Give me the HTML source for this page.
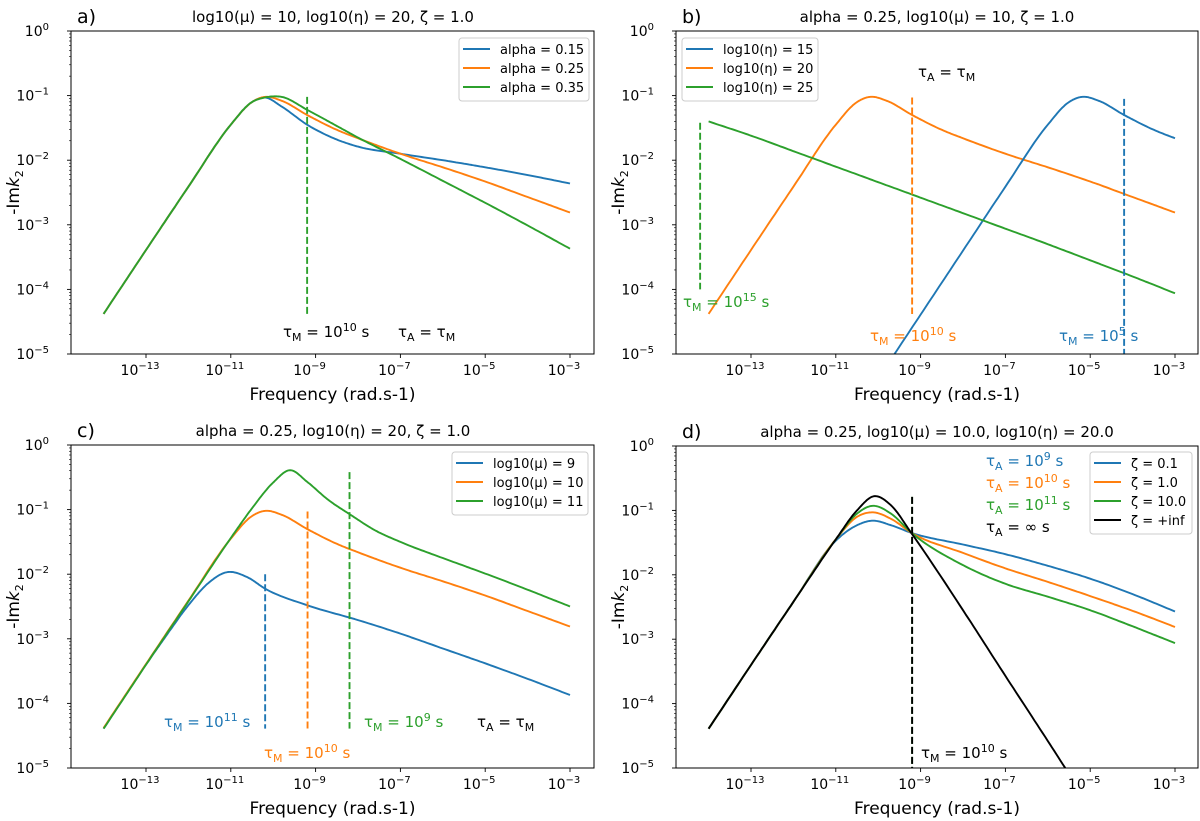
<!DOCTYPE html>
<html><head><meta charset="utf-8"><style>
html,body{margin:0;padding:0;background:#fff;}
svg{display:block;font-family:"DejaVu Sans","Liberation Sans",sans-serif;}
</style></head><body>
<svg id="fig" width="1200" height="821" viewBox="0 0 1200 821" xmlns="http://www.w3.org/2000/svg"></svg>
<script>
// ---- data (log10 frequency, log10 -Imk2) ----
const aX=[-14,-13,-12,-11,-10.5,-10.2,-9.8,-9.2,-8.5,-8,-7,-6,-5,-4,-3];
const aBlue=[-4.38,-3.39,-2.41,-1.45,-1.1,-1.03,-1.17,-1.45,-1.68,-1.79,-1.90,-2.0,-2.11,-2.23,-2.36];
const aOrange=[-4.38,-3.39,-2.41,-1.45,-1.1,-1.02,-1.08,-1.30,-1.53,-1.66,-1.90,-2.11,-2.33,-2.57,-2.81];
const aGreen=[-4.38,-3.39,-2.41,-1.45,-1.1,-1.03,-1.02,-1.22,-1.47,-1.65,-1.98,-2.32,-2.66,-3.01,-3.37];
const bOrangeX=[-14,-13,-12,-11,-10.5,-10.2,-9.8,-9.2,-8.5,-8,-7,-6,-5,-4,-3];
const bOrange=[-4.38,-3.39,-2.41,-1.45,-1.1,-1.02,-1.08,-1.30,-1.53,-1.66,-1.90,-2.11,-2.33,-2.57,-2.81];
const bBlueX=[-10,-9,-8,-7,-6,-5.5,-5.2,-4.8,-4.2,-3.5,-3];
const bBlue=[-5.38,-4.39,-3.40,-2.41,-1.45,-1.1,-1.02,-1.08,-1.30,-1.53,-1.66];
const bGreenX=[-14,-13,-12,-11,-10,-9,-8,-7,-6,-5,-4,-3];
const bGreen=[-1.40,-1.62,-1.86,-2.10,-2.34,-2.58,-2.82,-3.06,-3.30,-3.55,-3.80,-4.06];
const cBlueX=[-14,-13,-12.5,-12,-11.5,-11.1,-10.6,-10.2,-9.2,-8,-7,-6,-5,-4,-3];
const cBlue=[-4.39,-3.40,-2.93,-2.48,-2.12,-1.97,-2.05,-2.22,-2.48,-2.71,-2.92,-3.15,-3.38,-3.62,-3.87];
const cGreenX=[-14,-13,-12,-11,-10.5,-10,-9.6,-9.2,-8.7,-8.2,-7.6,-7,-6,-5,-4,-3];
const cGreen=[-4.39,-3.40,-2.42,-1.44,-0.98,-0.58,-0.39,-0.57,-0.85,-1.07,-1.32,-1.50,-1.75,-1.99,-2.24,-2.5];
const dX=[-14,-13,-12,-11,-10.5,-10.15,-9.7,-9.21,-8,-7,-6,-5,-4,-3];
const dBlue=[-4.39,-3.40,-2.42,-1.47,-1.23,-1.16,-1.23,-1.35,-1.53,-1.68,-1.86,-2.06,-2.30,-2.57];
const dOrange=[-4.39,-3.40,-2.42,-1.45,-1.10,-1.03,-1.13,-1.35,-1.66,-1.90,-2.11,-2.33,-2.56,-2.81];
const dGreen=[-4.39,-3.40,-2.42,-1.45,-1.05,-0.93,-1.05,-1.35,-1.85,-2.14,-2.34,-2.55,-2.80,-3.06];
const dBlackX=[-14,-13,-12,-11,-10.5,-10.1,-9.7,-9.21,-8,-7,-6,-5.2];
const dBlack=[-4.39,-3.40,-2.42,-1.45,-1.0,-0.78,-0.92,-1.36,-2.55,-3.57,-4.58,-5.4];
const xTicks=[-13,-11,-9,-7,-5,-3];
const yTicks=[0,-1,-2,-3,-4,-5];

const C={blue:'#1f77b4',orange:'#ff7f0e',green:'#2ca02c',black:'#000'};
const NS='http://www.w3.org/2000/svg';
const fig=document.getElementById('fig');
function el(tag,attrs,parent){const e=document.createElementNS(NS,tag);for(const k in attrs)e.setAttribute(k,attrs[k]);(parent||fig).appendChild(e);return e;}

function makeAxes(p){
  const sx=lx=>p.xa+(lx+13)*(p.xb-p.xa)/10;
  const sy=ly=>p.top+(-ly)*(p.bottom-p.top)/5;
  const g=el('g',{});
  
  
  const cp=el('clipPath',{id:'clip'+p.id},g);
  el('rect',{x:p.left,y:p.top,width:p.right-p.left,height:p.bottom-p.top},cp);
  const plot=el('g',{'clip-path':'url(#clip'+p.id+')'},g);
  xTicks.forEach(t=>{
    const x=sx(t);
    const tk=el('line',{x1:x,x2:x,y1:p.bottom,y2:p.bottom+4,stroke:'#000','stroke-width':0.9},g);
    
    
    const tx=el('text',{x:x-6,y:p.bottom+21,'font-size':14,'text-anchor':'middle'},g);
    
    
    tx.innerHTML='10<tspan dy="-6" font-size="10">\u2212'+(-t)+'</tspan>';
  });
  yTicks.forEach(t=>{
    const y=sy(t);
    el('line',{x1:p.left-4,x2:p.left,y1:y,y2:y,stroke:'#000','stroke-width':0.9},g);
    const tx=el('text',{x:p.left-22,y:y+5,'font-size':14,'text-anchor':'end'},g);
    
    
    tx.innerHTML='10<tspan dy="-6" font-size="10">'+(t===0?'0':'\u2212'+(-t))+'</tspan>';
    if(t>-5){for(let m=2;m<10;m++){const ym=sy(t-1+Math.log10(m));el('line',{x1:p.left-2,x2:p.left,y1:ym,y2:ym,stroke:'#000','stroke-width':0.6},g);}}
  });
  const xl=el('text',{x:(p.left+p.right)/2,y:p.bottom+46,'font-size':17,'text-anchor':'middle'},g);
  
  
  xl.textContent='Frequency (rad.s-1)';
  const yc=(p.top+p.bottom)/2;
  const yl=el('text',{x:0,y:0,'font-size':17,'text-anchor':'middle',transform:'translate('+(p.left-52)+','+yc+') rotate(-90)'},g);
  
  
  yl.innerHTML='-Im<tspan font-style="italic">k</tspan><tspan dy="4" font-size="11">2</tspan>';
  const tl=el('text',{x:p.tx,y:p.top-9,'font-size':15,'text-anchor':'middle'},g);
  
  
  tl.textContent=p.title;
  const lt=el('text',{x:p.left+6,y:p.top-8,'font-size':19},g);
  
  
  lt.textContent=p.id+')';
  return {sx,sy,g,plot,p};
}
function curvePath(ax,xs,ys){
  const n=xs.length,m=[];
  for(let i=0;i<n;i++){
    if(i===0)m.push((ys[1]-ys[0])/(xs[1]-xs[0]));
    else if(i===n-1)m.push((ys[n-1]-ys[n-2])/(xs[n-1]-xs[n-2]));
    else{
      const d0=(ys[i]-ys[i-1])/(xs[i]-xs[i-1]),d1=(ys[i+1]-ys[i])/(xs[i+1]-xs[i]);
      const h0=xs[i]-xs[i-1],h1=xs[i+1]-xs[i];
      m.push((d0*h1+d1*h0)/(h0+h1));
    }
  }
  let d='M'+ax.sx(xs[0]).toFixed(1)+','+ax.sy(ys[0]).toFixed(1);
  for(let i=0;i<n-1;i++){
    const h=xs[i+1]-xs[i];
    for(let k=1;k<=16;k++){
      const t=k/16,t2=t*t,t3=t2*t;
      const y=(2*t3-3*t2+1)*ys[i]+(t3-2*t2+t)*h*m[i]+(-2*t3+3*t2)*ys[i+1]+(t3-t2)*h*m[i+1];
      const x=xs[i]+t*h;
      d+=' L'+ax.sx(x).toFixed(1)+','+ax.sy(y).toFixed(1);
    }
  }
  return d;
}
function series(ax,xs,ys,color,name){
  const e=el('path',{d:curvePath(ax,xs,ys),fill:'none',stroke:color,'stroke-width':1.9,'stroke-linejoin':'round'},ax.plot);
  
  
}
function vline(ax,lx,ly1,ly2,color,name){
  const e=el('line',{x1:ax.sx(lx),x2:ax.sx(lx),y1:ax.sy(ly1),y2:ax.sy(ly2),stroke:color,'stroke-width':1.9,'stroke-dasharray':'7,3'},ax.plot);
  
  
}
function label(ax,x,y,color,html,name){
  const e=el('text',{x:x,y:y,'font-size':15,fill:color},ax.g);
  
  
  e.innerHTML=html;
}
function tau(sub,rest){return '\u03c4<tspan dy="4" font-size="11">'+sub+'</tspan><tspan dy="-4">'+rest+'</tspan>';}
function pow(e){return '10<tspan dy="-6" font-size="11">'+e+'</tspan><tspan dy="6"> s</tspan>';}
function frame(ax){
  const p=ax.p;
  el('rect',{x:p.left,y:p.top,width:p.right-p.left,height:p.bottom-p.top,fill:'none',stroke:'#000','stroke-width':1},ax.g);
}
function legend(ax,x,y,w,entries){
  const g=el('g',{},ax.g);
  
  
  el('rect',{x:x,y:y,width:w,height:entries.length*19+6,rx:3,fill:'#fff','fill-opacity':0.85,stroke:'#ccc'},g);
  entries.forEach((en,i)=>{
    const yy=y+11+i*19;
    const li=el('line',{x1:x+4,x2:x+31,y1:yy,y2:yy,stroke:en[0],'stroke-width':1.9},g);
    
    
    const t=el('text',{x:x+41,y:yy+5,'font-size':13},g);
    
    
    t.textContent=en[1];
  });
}

// Panel a
const A=makeAxes({id:'a',xa:146,xb:570,left:71,right:594,top:31,bottom:354,tx:333,title:'log10(\u03bc) = 10, log10(\u03b7) = 20, \u03b6 = 1.0'});
series(A,aX,aBlue,C.blue,'series-alpha-0.15');
series(A,aX,aOrange,C.orange,'series-alpha-0.25');
series(A,aX,aGreen,C.green,'series-alpha-0.35');
vline(A,-9.2,-1.02,-4.38,C.green,'tau-m-line');
label(A,283,337,'#000',tau('M',' = ')+pow('10'),'tau-m-label');
label(A,398,337,'#000',tau('A',' = ')+tau('M',''),'tau-a-label');
frame(A);
legend(A,459,38,130,[[C.blue,'alpha = 0.15'],[C.orange,'alpha = 0.25'],[C.green,'alpha = 0.35']]);

// Panel b
const B=makeAxes({id:'b',xa:751,xb:1175,left:676,right:1198,top:31,bottom:354,tx:937,title:'alpha = 0.25, log10(\u03bc) = 10, \u03b6 = 1.0'});
series(B,bOrangeX,bOrange,C.orange,'series-eta-20');
series(B,bBlueX,bBlue,C.blue,'series-eta-15');
series(B,bGreenX,bGreen,C.green,'series-eta-25');
vline(B,-14.2,-1.42,-4.0,C.green,'tau-m-line-green');
vline(B,-9.2,-1.03,-4.38,C.orange,'tau-m-line-orange');
vline(B,-4.2,-1.05,-5,C.blue,'tau-m-line-blue');
label(B,683,307,C.green,tau('M',' = ')+pow('15'),'tau-m-label-green');
label(B,870,341,C.orange,tau('M',' = ')+pow('10'),'tau-m-label-orange');
label(B,1059,341,C.blue,tau('M',' = ')+pow('5'),'tau-m-label-blue');
label(B,918,77,'#000',tau('A',' = ')+tau('M',''),'tau-a-label');
frame(B);
legend(B,682,38,136,[[C.blue,'log10(\u03b7) = 15'],[C.orange,'log10(\u03b7) = 20'],[C.green,'log10(\u03b7) = 25']]);

// Panel c
const Cc=makeAxes({id:'c',xa:146,xb:570,left:71,right:594,top:445,bottom:768,tx:333,title:'alpha = 0.25, log10(\u03b7) = 20, \u03b6 = 1.0'});
series(Cc,cBlueX,cBlue,C.blue,'series-mu-9');
series(Cc,aX,aOrange,C.orange,'series-mu-10');
series(Cc,cGreenX,cGreen,C.green,'series-mu-11');
vline(Cc,-10.19,-2.0,-4.39,C.blue,'tau-m-line-blue');
vline(Cc,-9.19,-1.03,-4.39,C.orange,'tau-m-line-orange');
vline(Cc,-8.2,-0.42,-4.39,C.green,'tau-m-line-green');
label(Cc,164,727,C.blue,tau('M',' = ')+pow('11'),'tau-m-label-blue');
label(Cc,264,758,C.orange,tau('M',' = ')+pow('10'),'tau-m-label-orange');
label(Cc,364,727,C.green,tau('M',' = ')+pow('9'),'tau-m-label-green');
label(Cc,477,727,'#000',tau('A',' = ')+tau('M',''),'tau-a-label');
frame(Cc);
legend(Cc,452,452,136,[[C.blue,'log10(\u03bc) = 9'],[C.orange,'log10(\u03bc) = 10'],[C.green,'log10(\u03bc) = 11']]);

// Panel d
const D=makeAxes({id:'d',xa:751,xb:1175,left:676,right:1198,top:446,bottom:768,tx:937,title:'alpha = 0.25, log10(\u03bc) = 10.0, log10(\u03b7) = 20.0'});
series(D,dX,dBlue,C.blue,'series-zeta-0.1');
series(D,dX,dOrange,C.orange,'series-zeta-1.0');
series(D,dX,dGreen,C.green,'series-zeta-10.0');
series(D,dBlackX,dBlack,C.black,'series-zeta-inf');
vline(D,-9.2,-0.79,-5,C.green,'tau-m-line-green');
vline(D,-9.2,-0.79,-5,C.black,'tau-m-line-black');
label(D,986,466,C.blue,tau('A',' = ')+pow('9'),'tau-a-label-blue');
label(D,986,488,C.orange,tau('A',' = ')+pow('10'),'tau-a-label-orange');
label(D,986,510,C.green,tau('A',' = ')+pow('11'),'tau-a-label-green');
label(D,986,532,'#000',tau('A',' = \u221e s'),'tau-a-label-black');
label(D,921,758,'#000',tau('M',' = ')+pow('10'),'tau-m-label');
frame(D);
legend(D,1090,452,102,[[C.blue,'\u03b6 = 0.1'],[C.orange,'\u03b6 = 1.0'],[C.green,'\u03b6 = 10.0'],[C.black,'\u03b6 = +inf']]);
</script>
</body></html>
